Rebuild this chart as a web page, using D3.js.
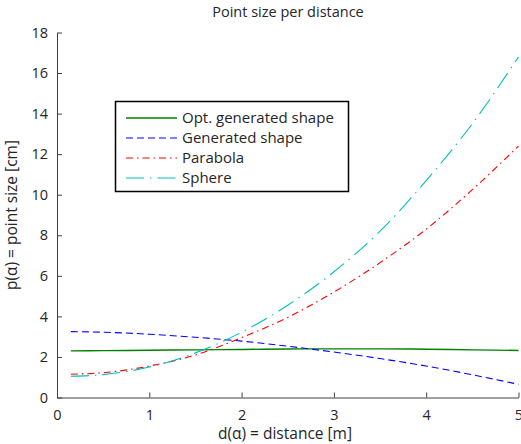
<!DOCTYPE html>
<html><head><meta charset="utf-8">
<script src="https://cdn.jsdelivr.net/npm/d3@7"></script>
<style>body{margin:0;background:#fff}svg{display:block}text{font-family:"Open Sans",sans-serif;fill:#262626}</style>
</head><body>
<svg id="c" width="521" height="444"></svg>
<script>
const distances = [0.15, 0.5, 1, 1.5, 2, 2.5, 3, 3.5, 4, 4.5, 5];
const optGenerated = [2.30, 2.31, 2.33, 2.35, 2.37, 2.39, 2.40, 2.40, 2.38, 2.35, 2.32];
const generated = [3.25, 3.22, 3.12, 2.97, 2.78, 2.53, 2.24, 1.92, 1.55, 1.12, 0.65];
const parabola = [1.15, 1.22, 1.55, 2.10, 2.95, 3.95, 5.20, 6.65, 8.30, 10.25, 12.40];
const sphere = [1.05, 1.13, 1.50, 2.20, 3.22, 4.55, 6.20, 8.20, 10.70, 13.50, 16.80];
const xTicks = [0, 1, 2, 3, 4, 5];
const yTicks = [0, 2, 4, 6, 8, 10, 12, 14, 16, 18];
const seriesNames = ["Opt. generated shape", "Generated shape", "Parabola", "Sphere"];
const seriesColors = ["#008000", "#0000ff", "#ff0000", "#00bfbf"];
const seriesDash = [null, "7,4", "7,4,1.5,4", "18,6,1.5,6"];
const seriesValues = [optGenerated, generated, parabola, sphere];

const svg = d3.select("#c");
const x = d3.scaleLinear().domain([0, 5]).range([57, 518.5]);
const y = d3.scaleLinear().domain([0, 18]).range([397.5, 32.5]);

const line = d3.line().x(d => x(d[0])).y(d => y(d[1])).curve(d3.curveMonotoneX);
seriesValues.forEach((vals, i) => {
  svg.append("path")
    .datum(distances.map((d, j) => [d, vals[j]]))
    .attr("d", line)
    .attr("fill", "none")
    .attr("stroke", seriesColors[i])
    .attr("stroke-width", i === 0 ? 1.4 : 1.1)
    .attr("stroke-dasharray", seriesDash[i]);
});

const xAxis = svg.append("g").attr("transform", `translate(0,${y(0)})`)
  .call(d3.axisBottom(x).tickValues(xTicks).tickSizeInner(-5).tickSizeOuter(0).tickPadding(12).tickFormat(d3.format("d")));
const yAxis = svg.append("g").attr("transform", `translate(${x(0)},0)`)
  .call(d3.axisLeft(y).tickValues(yTicks).tickSizeInner(-5).tickSizeOuter(0).tickPadding(9).tickFormat(d3.format("d")));
[xAxis, yAxis].forEach(g => {
  g.select(".domain").attr("stroke", "#404040").attr("stroke-width", 1);
  g.selectAll(".tick line").attr("stroke", "#404040");
  g.selectAll(".tick text").attr("fill", "#262626").style("font-size", "14.5px").style("font-family", '"Open Sans",sans-serif');
});

svg.append("text").attr("x", 288).attr("y", 17).attr("text-anchor", "middle").style("font-size", "14.5px").text("Point size per distance");
svg.append("text").attr("x", 285).attr("y", 439).attr("text-anchor", "middle").style("font-size", "15.5px").text("d(α) = distance [m]");
svg.append("text").attr("transform", "translate(17,215) rotate(-90)").attr("text-anchor", "middle").style("font-size", "15.5px").text("p(α) = point size [cm]");

const lg = svg.append("g");
lg.append("rect").attr("x", 115.5).attr("y", 101.5).attr("width", 233).attr("height", 90)
  .attr("fill", "#fff").attr("stroke", "#000").attr("stroke-width", 1.5);
seriesNames.forEach((n, i) => {
  const yy = 118 + i * 20;
  lg.append("line").attr("x1", 126).attr("x2", 177).attr("y1", yy).attr("y2", yy)
    .attr("stroke", seriesColors[i]).attr("stroke-width", i === 0 ? 1.4 : 1.1).attr("stroke-dasharray", seriesDash[i]);
  lg.append("text").attr("x", 182).attr("y", yy + 5).style("font-size", "15px").text(n);
});
</script>
</body></html>
